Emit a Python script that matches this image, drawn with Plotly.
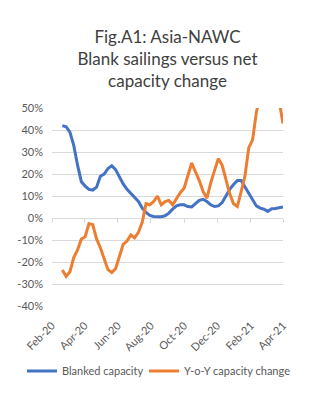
import pandas as pd
import plotly.graph_objects as go

# Weekly observations (Feb-20 .. Apr-21)
dates = pd.date_range("2020-02-20", periods=59, freq="7D")

blanked = [42, 41.5, 39, 33, 24, 16.5, 14.5, 13, 12.7, 14,
           19, 20, 22.5, 23.8, 22, 18.5, 15.5, 13, 11, 9.5,
           7.5, 4.5, 2.5, 1.2, 0.7, 0.6, 0.6, 1.0, 2.2, 4,
           5.5, 6, 6, 5.2, 5, 6.5, 8, 8.5, 7.5, 6,
           5.2, 5.5, 7, 10, 13, 15.2, 17, 17, 14, 11.5,
           8.5, 5.5, 4.5, 4, 3, 4.2, 4.3, 4.6, 5]

yoy = [-23.6, -26.5, -24.4, -18, -14.5, -9.5, -8.5, -2.5, -3, -9.5,
       -13.5, -18.5, -23.5, -24.8, -23, -17.5, -12, -10.5, -7.7, -9,
       -6.5, -2, 6.5, 6, 7.5, 10, 6, 7.5, 8, 6,
       9, 11.5, 13.5, 19, 25, 21, 17, 12, 9, 16,
       21.8, 27, 24, 17, 11, 6.5, 5.2, 12, 19, 32,
       35.5, 48, 58, 64, 68, 66, 60, 53, 43]

tick_dates = ["2020-02-01", "2020-04-01", "2020-06-01", "2020-08-01",
              "2020-10-01", "2020-12-01", "2021-02-01", "2021-04-01"]
tick_labels = ["Feb-20", "Apr-20", "Jun-20", "Aug-20", "Oct-20", "Dec-20", "Feb-21", "Apr-21"]

y_vals = [50, 40, 30, 20, 10, 0, -10, -20, -30, -40]
y_labels = ["50%", "40%", "30%", "20%", "10%", "0%", "-10%", "-20%", "-30%", "-40%"]

title_text = "Fig.A1: Asia-NAWC<br>Blank sailings versus net<br>capacity change"

BLUE = "#4472C4"
ORANGE = "#ED7D31"
GRID = "#D9D9D9"
TXT = "#595959"

fig = go.Figure()
fig.add_trace(go.Scatter(x=dates, y=blanked, mode="lines", name="Blanked capacity",
                         line=dict(color=BLUE, width=3), legend="legend"))
fig.add_trace(go.Scatter(x=dates, y=yoy, mode="lines", name="Y-o-Y capacity change",
                         line=dict(color=ORANGE, width=3), legend="legend2"))
# invisible trace to drive the tick-mark axis sitting on 0%
fig.add_trace(go.Scatter(x=dates, y=[None] * len(dates), xaxis="x2", showlegend=False,
                         hoverinfo="skip"))

x_range = ["2020-02-01", "2021-04-01"]
leg_common = dict(orientation="h", xref="container", yref="container",
                  y=29 / 400, yanchor="middle", font=dict(size=11, color=TXT),
                  itemwidth=30, bgcolor="rgba(0,0,0,0)")
fig.update_layout(
    width=325, height=400,
    margin=dict(l=52, r=42, t=108, b=94, autoexpand=False),
    paper_bgcolor="white", plot_bgcolor="white",
    font=dict(family="Lato", color=TXT, size=11),
    title=dict(text=title_text, x=0.5, xanchor="center", xref="paper",
               y=1 - 43 / 400, yref="container", yanchor="top",
               font=dict(family="Lato", size=17, color="#404040")),
    xaxis=dict(type="date", range=x_range, tickvals=tick_dates, ticktext=tick_labels,
               tickangle=-45, showgrid=False, showline=False, ticks="",
               zeroline=False, automargin=False, ticklabelstandoff=10,
               tickfont=dict(size=11, color=TXT)),
    xaxis2=dict(type="date", range=x_range, overlaying="x", anchor="free",
                position=40 / 90, tickvals=tick_dates, showticklabels=False,
                ticks="outside", ticklen=4, tickcolor=GRID, showgrid=False,
                showline=False, zeroline=False, automargin=False),
    yaxis=dict(range=[-40, 50], tickvals=y_vals, ticktext=y_labels,
               showgrid=True, gridcolor=GRID, gridwidth=1, zeroline=True,
               zerolinecolor=GRID, zerolinewidth=1, showline=False, ticks="",
               automargin=False, ticklabelstandoff=8,
               tickfont=dict(size=11, color=TXT)),
    legend=dict(leg_common, x=22 / 325, xanchor="left"),
    legend2=dict(leg_common, x=144 / 325, xanchor="left"),
    showlegend=True,
)

fig.write_html("out.html")
